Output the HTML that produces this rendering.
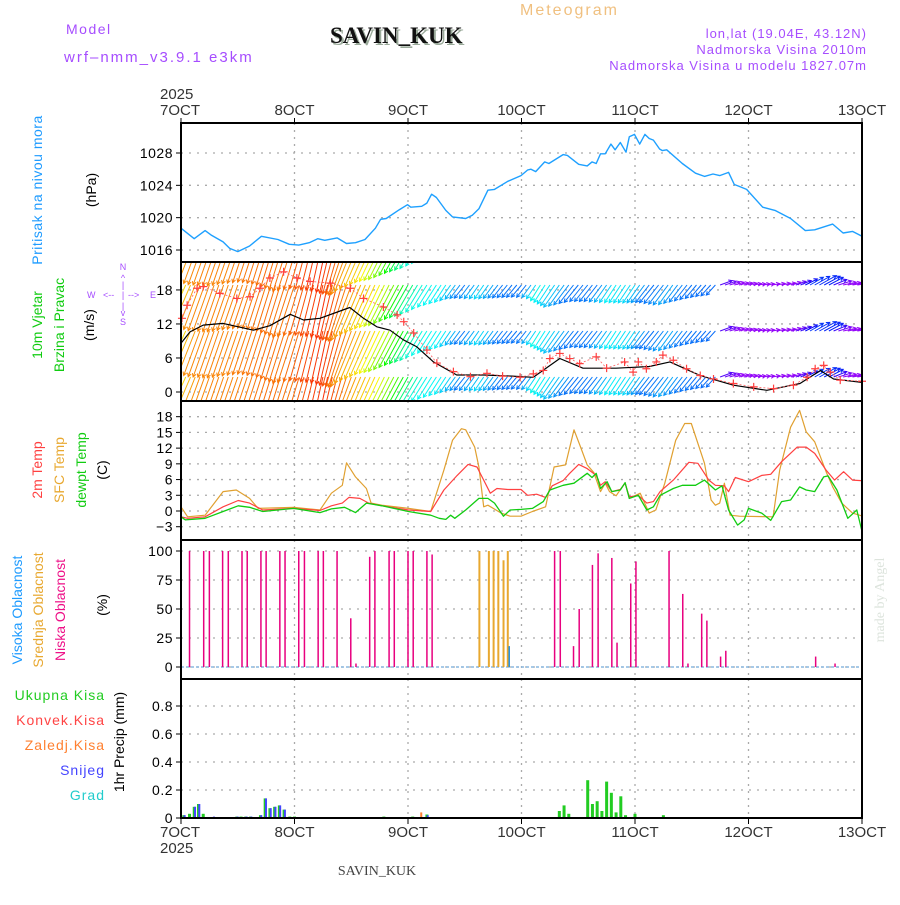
<!DOCTYPE html>
<html><head><meta charset="utf-8"><style>
body{margin:0;background:#fff;}
svg text{font-family:"Liberation Sans",sans-serif;}
</style></head><body>
<svg id="chart" width="900" height="900" viewBox="0 0 900 900" xmlns="http://www.w3.org/2000/svg">
<defs>
<clipPath id="clipWind"><rect x="181" y="262" width="681" height="139"/></clipPath>
</defs>
<rect width="900" height="900" fill="#fff"/>
<text x="66" y="34" font-size="14" fill="#a64dff" letter-spacing="1.5">Model</text>
<text x="64" y="62" font-size="15" fill="#a64dff" letter-spacing="2">wrf–nmm_v3.9.1 e3km</text>
<text x="332" y="45" font-weight="bold" font-size="23" fill="#9aaa9a" style="font-family:'Liberation Serif',serif">SAVIN_KUK</text>
<text x="330" y="43" font-weight="bold" font-size="23" fill="#111" style="font-family:'Liberation Serif',serif">SAVIN_KUK</text>
<text x="520" y="15" font-size="16" fill="#f0c080" letter-spacing="2">Meteogram</text>
<text x="867" y="38" font-size="13" fill="#a64dff" text-anchor="end" letter-spacing="1">lon,lat (19.04E, 43.12N)</text>
<text x="867" y="54" font-size="13" fill="#a64dff" text-anchor="end" letter-spacing="1">Nadmorska Visina 2010m</text>
<text x="867" y="70" font-size="13" fill="#a64dff" text-anchor="end" letter-spacing="1">Nadmorska Visina u modelu 1827.07m</text>
<g id="grid"></g>
<g id="marks"></g>
<g id="frames"></g>
<g id="labels"></g>
<text transform="translate(42,190) rotate(-90)" text-anchor="middle" font-size="14" fill="#1e9bff" letter-spacing="0.5">Pritisak na nivou mora</text>
<text transform="translate(96,190) rotate(-90)" text-anchor="middle" font-size="14" fill="#000">(hPa)</text>
<text transform="translate(42,325) rotate(-90)" text-anchor="middle" font-size="14" fill="#11cc11">10m Vjetar</text>
<text transform="translate(64,325) rotate(-90)" text-anchor="middle" font-size="14" fill="#11cc11">Brzina i Pravac</text>
<text transform="translate(94,325) rotate(-90)" text-anchor="middle" font-size="14" fill="#000">(m/s)</text>
<g fill="#a64dff" font-size="9">
<text x="123" y="270" text-anchor="middle">N</text>
<text x="123" y="281" text-anchor="middle">^</text>
<text x="123" y="288" text-anchor="middle">|</text>
<text x="87" y="298">W</text>
<text x="103" y="298">&lt;--</text>
<text x="123" y="298" text-anchor="middle">|</text>
<text x="128" y="298">--&gt;</text>
<text x="150" y="298">E</text>
<text x="123" y="309" text-anchor="middle">|</text>
<text x="123" y="316" text-anchor="middle">v</text>
<text x="123" y="325" text-anchor="middle">S</text>
</g>
<text transform="translate(42,470) rotate(-90)" text-anchor="middle" font-size="14" fill="#ff4040">2m Temp</text>
<text transform="translate(64,470) rotate(-90)" text-anchor="middle" font-size="14" fill="#e8a830">SFC Temp</text>
<text transform="translate(86,470) rotate(-90)" text-anchor="middle" font-size="14" fill="#11cc11">dewpt Temp</text>
<text transform="translate(107,470) rotate(-90)" text-anchor="middle" font-size="14" fill="#000">(C)</text>
<text transform="translate(22,610) rotate(-90)" text-anchor="middle" font-size="14" fill="#1e9bff">Visoka Oblacnost</text>
<text transform="translate(43,610) rotate(-90)" text-anchor="middle" font-size="14" fill="#e8a830">Srednja Oblacnost</text>
<text transform="translate(65,610) rotate(-90)" text-anchor="middle" font-size="14" fill="#ee1188">Niska Oblacnost</text>
<text transform="translate(107,605) rotate(-90)" text-anchor="middle" font-size="14" fill="#000">(%)</text>
<text x="105" y="700" text-anchor="end" font-size="14" fill="#22cc22" letter-spacing="1">Ukupna  Kisa</text>
<text x="105" y="725" text-anchor="end" font-size="14" fill="#ff4444" letter-spacing="1">Konvek.Kisa</text>
<text x="105" y="750" text-anchor="end" font-size="14" fill="#ff8030" letter-spacing="1">Zaledj.Kisa</text>
<text x="105" y="775" text-anchor="end" font-size="14" fill="#4444ff" letter-spacing="1">Snijeg</text>
<text x="105" y="800" text-anchor="end" font-size="14" fill="#22cccc" letter-spacing="1">Grad</text>
<text transform="translate(124,742) rotate(-90)" text-anchor="middle" font-size="14" fill="#000">1hr Precip (mm)</text>
<text transform="translate(884,600) rotate(-90)" text-anchor="middle" font-size="14" fill="#dde4dd" style="font-family:'Liberation Serif',serif">made by Angel</text>
<text x="377" y="875" text-anchor="middle" font-size="14" fill="#444" style="font-family:'Liberation Serif',serif">SAVIN_KUK</text>
</svg>
<script>
const dayLabels = ["7OCT","8OCT","9OCT","10OCT","11OCT","12OCT","13OCT"];
const pressHours = [0,2.8,5.1,6.5,8.9,10.3,12,14.5,17,20.5,22.9,24.9,27.1,28.9,30.4,33,35,36.9,38.9,41.1,42.2,43.4,46.2,47.9,48.6,50.9,52,53,54,56,57.4,60.2,61.6,63,64.9,66.3,69.1,71.9,73.3,74,75,76.9,77.8,80.8,81.7,84.1,85.9,86.9,87.8,88.7,89.7,90.9,91.8,92.9,94.1,94.8,95.9,97,98.1,99,99.9,101.2,101.8,102.7,106,108.8,110.7,112.5,113.9,115.8,117,117.9,119.6,123,125.6,128.9,132,134,137.8,140,142,144];
const pressVals = [1018.7,1017.4,1018.4,1017.8,1017.0,1016.2,1015.8,1016.5,1017.7,1017.3,1016.7,1016.6,1016.9,1017.4,1017.2,1017.5,1016.8,1016.9,1017.3,1018.7,1019.8,1019.9,1021.0,1021.6,1021.3,1021.4,1021.8,1022.9,1022.5,1020.9,1020.1,1019.9,1020.3,1021.1,1023.4,1023.5,1024.5,1025.2,1025.9,1026.0,1025.7,1026.9,1026.7,1027.8,1027.7,1026.6,1026.4,1026.9,1026.7,1027.9,1027.9,1029.1,1028.4,1029.3,1028.1,1030.0,1030.3,1029.1,1030.3,1029.8,1029.6,1028.5,1028.3,1028.4,1026.7,1025.5,1025.1,1025.4,1025.2,1025.6,1024.1,1023.9,1023.5,1021.3,1020.9,1019.9,1018.4,1018.5,1019.2,1018.1,1018.3,1017.7];
const pressTicks = [1016,1020,1024,1028];

const speedHours = [0,1.9,4.7,8.9,15.3,18.8,23.1,25.9,29.4,35.7,38.6,41.4,44.2,47,49.8,53.4,58.3,64,70,74.5,80.1,85,92,99,103.4,109.8,116.8,123.9,130.9,135.2,138,144];
const speedVals = [8.6,10.6,11.8,12.1,10.9,11.7,13.7,12.7,13.0,14.9,13.0,11.5,10.9,9.2,8.0,5.3,3.0,3.0,2.8,2.6,5.9,4.2,4.2,4.5,5.3,2.9,1.2,0.3,1.5,3.8,2.3,1.7];
const gustHours = [0.2,1.3,3.4,4.7,8.2,11.8,14.6,16.7,18.8,21.7,24.5,27.3,31.6,35.8,38.6,42.8,45.7,47.1,49.2,52,54.1,57.6,61.2,64.7,68,71.7,74.5,76.6,78,80.1,82.2,84.3,87.8,90,93.8,95.6,96.7,98.4,100.5,101.9,104.1,106.9,109.8,112.6,116.8,121.1,125.3,129.5,132.4,134.1,135.9,137.3,139.4,144];
const gustVals = [13.0,15.3,18.3,18.6,17.4,16.5,16.8,18.3,20.1,21.2,20.1,19.5,19.2,18.3,16.5,15.0,13.6,12.4,10.4,7.4,5.1,3.6,2.7,3.3,2.8,2.6,3.2,3.8,5.9,6.8,5.9,5.0,6.2,4.2,5.3,3.5,5.3,4.1,5.3,6.5,5.6,4.1,2.9,2.3,1.5,0.9,0.6,1.2,2.6,4.1,4.7,3.5,2.1,1.9];
const dirHours = [0,2,4,8,12,16,20,24,28,31,34,37,40,43,46,49,52,56,60,64,68,72,76,80,84,88,92,96,100,104,108,112,114,117,122,128,133,137,140,144];
const dirVals = [26,23,20,19,19,18,17,18,14,12,16,22,24,26,28,30,32,33,38,34,38,40,32,35,39,38,33,34,39,36,39,42,250,255,262,258,240,242,258,262];
const windTicks = [0,6,12,18];

const t2Hours = [0,1.4,5.1,8.9,12.1,14.5,17.3,23.8,29.4,31.8,34.1,35.5,37.8,39.7,42.5,48.1,52.8,55.6,58.4,60.7,62.6,64,65.4,66.8,69.1,71.9,73.3,75.2,77.1,78.5,80.8,82.2,84.1,85.9,87.8,88.7,89.7,91.1,92.9,93.9,94.8,96.7,98.5,99.9,101.3,104.1,107.4,109.3,111.6,113,114.9,115.8,117.2,120,122.8,124.7,127,130.3,132.2,134,136.4,138.2,140.1,142,143.8];
const t2Vals = [-1.1,-1.4,-1.1,0.8,2.0,1.5,0.2,0.5,0.1,1.0,1.5,2.6,2.4,1.5,1.0,0.2,-0.1,4.0,6.8,8.9,8.4,5.9,3.4,4.3,4.1,4.1,3.0,3.2,2.6,4.8,5.8,7.2,8.9,8.1,6.8,4.9,5.6,3.7,4.1,5.3,2.7,3.0,1.5,1.8,3.7,5.9,9.3,9.1,5.9,4.9,4.8,3.7,6.4,5.6,6.8,7.0,9.4,12.2,12.2,11.0,7.8,5.9,7.5,5.9,5.8];
const sfcHours = [0,1.4,5.1,8.9,11.7,14.5,16.3,23.8,29.4,31.8,34.1,35,36.9,39.2,40.2,42.5,48.1,52.8,55.6,57.4,59.3,60.2,62.1,63,64,64.9,67.7,69.6,71.9,74.3,77.1,78.9,81.3,83.1,84.5,85.9,87.3,88.7,89.7,90.6,92,93.9,94.8,97.1,99,100.4,102.3,104.6,106.5,107.9,110.7,112.1,113,113.9,114.9,116.1,118.1,125.2,126.6,128.9,130.8,132.2,134,136.4,137.8,139.7,142,143.8];
const sfcVals = [0.8,-1.1,-0.8,3.7,4.0,2.4,0.5,0.7,0.2,3.4,4.9,9.2,6.5,4.3,1.5,1.1,0.5,-0.1,7.8,13.5,15.7,15.5,12.2,8.4,0.8,1.1,-0.4,-1.0,-1.0,-0.1,0.8,8.4,8.8,15.5,12.2,8.8,7.3,3.7,5.3,3.7,2.9,5.4,2.4,3.4,-0.4,0.2,5.3,13.5,16.7,16.7,9.1,2.1,1.1,1.5,5.3,-0.8,-1.0,-1.1,7.8,16.0,19.2,15.1,13.2,7.5,4.6,1.5,-0.4,-0.9];
const dewHours = [0,0.9,5.1,8.9,12.1,14.5,17.3,23.8,29.4,31.8,34.6,36.9,39.2,42.5,48.1,52.8,54.6,56,57,57.9,60.2,63,64.9,66.3,68.2,69.6,71.9,74.3,76.6,78,80.8,83.1,85.9,86.9,87.8,88.7,90.1,91.1,92.9,93.9,94.8,96.7,98.5,99.9,101.3,104.1,106,108.8,110.7,113,114.4,115.8,117.7,119.1,120,122.8,124.7,127,128.9,130.8,132.2,134,135.9,136.8,138.7,141,142.9,144];
const dewVals = [-1.1,-1.7,-1.4,-0.1,1.0,0.7,-0.1,0.5,-0.3,0.4,0.7,-0.3,1.5,1.0,-0.1,-0.8,-1.4,-1.6,-0.8,-1.4,0.2,2.4,2.4,1.5,-1.0,0.2,0.3,0.5,1.8,4.0,4.9,5.3,7.2,6.4,7.2,4.3,5.6,3.7,4.0,5.4,2.4,3.0,0.2,0.8,3.0,4.3,4.9,4.9,5.9,4.0,4.8,0.2,-2.7,-1.7,0.5,-0.4,-1.8,1.8,2.1,4.6,4.0,3.7,6.5,6.7,4.0,-1.4,0.2,-3.9];
const tempTicks = [-3,0,3,6,9,12,15,18];

const lowHours = [1.8,4.8,6.0,8.8,10.0,12.9,14.0,16.9,18.0,20.9,22.0,24.9,26.1,29.0,30.1,33.0,35.9,37.0,39.9,41.0,44.0,45.1,48.0,49.1,52.0,53.1,79.0,80.2,83.0,84.2,87.0,88.2,91.1,92.2,95.1,96.2,103.2,106.1,107.2,110.1,111.2,114.1,115.2,134.2,138.3];
const lowVals = [100,100,100,100,100,100,100,100,100,100,100,100,100,100,100,100,42,3,95,100,100,100,100,100,100,97,100,100,18,50,88,98,94,21,72,91,100,63,3,46,40,9,14,9,3];
const midHours = [63.1,65.1,66.1,67.1,68.2,69.1];
const midVals = [100,100,100,100,92,100];
const highHours = [69.4];
const highVals = [18];
const cloudTicks = [0,25,50,75,100];

const rainHours = [0.6,1.8,2.8,3.7,4.7,11.8,12.7,13.7,14.7,16.8,17.8,18.8,19.8,20.8,21.8,23,24,42.9,49,52,80,81,82,86,87,88,89,90,91,92,93,94,96,102];
const rainVals = [0.02,0.03,0.08,0.10,0.03,0.01,0.01,0.01,0.01,0.02,0.14,0.07,0.08,0.09,0.06,0.01,0.01,0.01,0.01,0.025,0.05,0.09,0.03,0.27,0.10,0.12,0.05,0.26,0.18,0.04,0.155,0.02,0.03,0.02];
const snowHours = [0.6,2.8,3.7,6.8,11.8,13.7,14.7,16.8,17.8,18.8,19.8,20.8,21.8,52];
const snowVals = [0.02,0.08,0.10,0.01,0.01,0.01,0.01,0.02,0.14,0.07,0.08,0.09,0.06,0.02];
const frzHours = [50.8];
const frzVals = [0.04];
const precipTicks = [0,0.2,0.4,0.6,0.8];

const X0=181, X1=862, HMAX=144;
function xs(h){return X0 + h*(X1-X0)/HMAX;}
const yP = v => 153 + (1028-v)*8.083;
const yW = v => 392 - v*5.67;
const yT = v => 511 - v*5.24;
const yC = v => 667 - v*1.16;
const yR = v => 818 - v*140;
const panels=[[123,262],[262,401],[401,540],[540,679],[679,818]];
const NS='http://www.w3.org/2000/svg';
function mk(tag,attrs,parent){const e=document.createElementNS(NS,tag);for(const k in attrs)e.setAttribute(k,attrs[k]);parent.appendChild(e);return e;}
const grid=document.getElementById('grid'), marks=document.getElementById('marks'), frames=document.getElementById('frames'), labels=document.getElementById('labels');

for(let d=1; d<dayLabels.length-1; d++){
  const x=xs(d*24);
  for(const p of panels){
    const l=mk('line',{x1:x,x2:x,y1:p[0],y2:p[1],stroke:'#aaa','stroke-width':1.3,'stroke-dasharray':'2,5'},grid);
    
    
  }
}
function hgrid(ticks, yf, fmt){
  ticks.forEach(t=>{
    const y=yf(t);
    const l=mk('line',{x1:X0,x2:X1,y1:y,y2:y,stroke:'#aaa','stroke-width':1.3,'stroke-dasharray':'2,6'},grid);
    
    
    mk('line',{x1:X0-5,x2:X0,y1:y,y2:y,stroke:'#000','stroke-width':1},frames);
    const tx=mk('text',{x:X0-8,y:y+5,'text-anchor':'end','font-size':14,fill:'#000','letter-spacing':'0.5'},labels);
    tx.textContent=fmt(t);
    
    
  });
}
hgrid(pressTicks,yP,t=>t);
hgrid(windTicks,yW,t=>t);
hgrid(tempTicks,yT,t=>t<0?'−'+(-t):t);
hgrid(cloudTicks,yC,t=>t);
hgrid(precipTicks,yR,t=>t===0?'0':t.toFixed(1));

dayLabels.forEach((lab,i)=>{
  const x=xs(i*24);
  const t1=mk('text',{x:x,y:115,'text-anchor':i===0?'start':'middle','font-size':15,fill:'#333'},labels);
  if(i===0) t1.setAttribute('x',x-21);
  t1.textContent=lab;
  
  
  const t2=mk('text',{x:x,y:837,'text-anchor':i===0?'start':'middle','font-size':15,fill:'#333'},labels);
  if(i===0) t2.setAttribute('x',x-21);
  t2.textContent=lab;
  
  
  mk('line',{x1:x,x2:x,y1:118,y2:123,stroke:'#000'},frames);
  mk('line',{x1:x,x2:x,y1:818,y2:824,stroke:'#000'},frames);
});
const yr1=mk('text',{x:160,y:99,'font-size':15,fill:'#333'},labels); yr1.textContent='2025';


const yr2=mk('text',{x:160,y:853,'font-size':15,fill:'#333'},labels); yr2.textContent='2025';



function poly(hours,vals,yf,color,w,name,parent){
  const pts=hours.map((h,i)=>xs(h).toFixed(1)+','+yf(vals[i]).toFixed(1)).join(' ');
  const p=mk('polyline',{points:pts,fill:'none',stroke:color,'stroke-width':w,'stroke-linejoin':'round'},parent||marks);
  
  
  return p;
}
poly(pressHours,pressVals,yP,'#1ea0ff',1.4,'pressure-line');

function interp(hs,vs,h,stepJump){
  if(h<=hs[0])return vs[0];
  for(let i=1;i<hs.length;i++){
    if(h<=hs[i]){
      if(stepJump && Math.abs(vs[i]-vs[i-1])>stepJump) return (h<hs[i])?vs[i-1]:vs[i];
      const f=(h-hs[i-1])/(hs[i]-hs[i-1]);return vs[i-1]+f*(vs[i]-vs[i-1]);
    }
  }
  return vs[vs.length-1];
}
const hueStopD=[5,12,18,22,25,27,29,31,34,38,100,240,255,270];
const hueStopH=[-25,10,28,38,55,85,125,170,188,212,255,228,275,275];
function hueFor(d){const h=interp(hueStopD,hueStopH,d);return ((h%360)+360)%360;}
const windG=mk('g',{'clip-path':'url(#clipWind)'},marks);


const anchors=[239,285,331,377];
for(let h=0; h<=HMAX; h+=1){
  const sp=interp(speedHours,speedVals,h), d=interp(dirHours,dirVals,h,60);
  const L=6+3.6*sp, b=(d+180)*Math.PI/180;
  const ux=Math.sin(b), uy=-Math.cos(b);
  const dx=ux*L, dy=uy*L;
  const col='hsl('+hueFor(d).toFixed(0)+',95%,50%)';
  const x=xs(h);
  const hl=4, ca=Math.cos(0.5), sa=Math.sin(0.5);
  const w1x=-(ux*ca-uy*sa)*hl, w1y=-(ux*sa+uy*ca)*hl;
  const w2x=-(ux*ca+uy*sa)*hl, w2y=-(-ux*sa+uy*ca)*hl;
  anchors.forEach(a=>{
    const tx=x+dx, ty=a+dy;
    const ln=mk('path',{d:`M${x.toFixed(1)},${a}L${tx.toFixed(1)},${ty.toFixed(1)}M${(tx+w1x).toFixed(1)},${(ty+w1y).toFixed(1)}L${tx.toFixed(1)},${ty.toFixed(1)}L${(tx+w2x).toFixed(1)},${(ty+w2y).toFixed(1)}`,stroke:col,'stroke-width':1,fill:'none'},windG);
    
    
  });
}
poly(speedHours,speedVals,yW,'#000',1.2,'wind-speed-line');
poly(gustHours,gustVals,yW,'#ff6060',0.8,'wind-gust-line').setAttribute('stroke-dasharray','2,2');
gustHours.forEach((h,i)=>{
  const x=xs(h),y=yW(gustVals[i]);
  const g=mk('path',{d:`M${x-4},${y}H${x+4}M${x},${y-4}V${y+4}`,stroke:'#ff4040','stroke-width':1.2,fill:'none'},marks);
  
  
});

poly(sfcHours,sfcVals,yT,'#e0a030',1.2,'sfc-temp-line');
poly(t2Hours,t2Vals,yT,'#ff4040',1.2,'temp-2m-line');
poly(dewHours,dewVals,yT,'#11cc11',1.3,'dewpoint-line');

const cb=mk('line',{x1:X0,x2:X1,y1:yC(0),y2:yC(0),stroke:'#8ab8e0','stroke-width':1.5,'stroke-dasharray':'3,2'},marks);


function bars(hours,vals,yf,color,w,off,name){
  hours.forEach((h,i)=>{
    const x=xs(h)+off, y=yf(vals[i]), y0=yf(0);
    const r=mk('rect',{x:x-w/2,y:y,width:w,height:Math.max(0.5,y0-y),fill:color},marks);
    
    
  });
}
bars(lowHours,lowVals,yC,'#e8007f',1.5,0,'low-cloud-bar');
bars(midHours,midVals,yC,'#e8a830',2,0,'mid-cloud-bar');
bars(highHours,highVals,yC,'#2090e0',1.5,0,'high-cloud-bar');

bars(rainHours,rainVals,yR,'#22cc22',3,0,'total-rain-bar');
bars(snowHours,snowVals,yR,'#4444ff',2,0.8,'snow-bar');
bars(frzHours,frzVals,yR,'#ff8030',2,0,'freezing-rain-bar');

panels.forEach(p=>{
  const r=mk('rect',{x:X0,y:p[0],width:X1-X0,height:p[1]-p[0],fill:'none',stroke:'#000','stroke-width':2},frames);
  
  
});
</script>
</body></html>
